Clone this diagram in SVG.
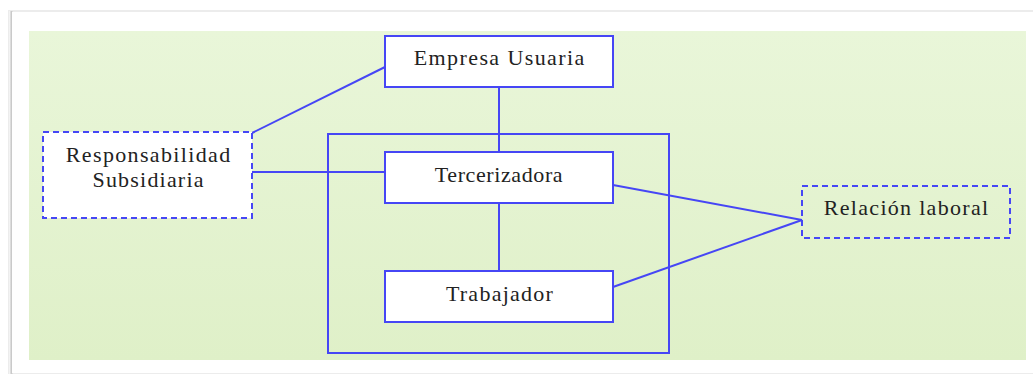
<svg xmlns="http://www.w3.org/2000/svg" width="1033" height="374" viewBox="0 0 1033 374">
  <defs>
    <linearGradient id="bg" x1="0" y1="0" x2="0" y2="1">
      <stop offset="0" stop-color="#e9f6d9"/>
      <stop offset="1" stop-color="#dff0c8"/>
    </linearGradient>
    <linearGradient id="shadowL" x1="0" y1="0" x2="1" y2="0">
      <stop offset="0" stop-color="#ffffff"/>
      <stop offset="0.6" stop-color="#c8c8c8"/>
      <stop offset="1" stop-color="#e6e6e6"/>
    </linearGradient>
    <style>
      .box { fill: #ffffff; stroke: #4646f5; stroke-width: 2; }
      .dash { fill: #ffffff; stroke: #4646f5; stroke-width: 2; stroke-dasharray: 6 4; }
      .dashg { fill: none; stroke: #4646f5; stroke-width: 2; stroke-dasharray: 6 4; }
      .line { fill: none; stroke: #4646f5; stroke-width: 2; }
    </style>
  </defs>
  <rect x="0" y="0" width="1033" height="374" fill="#ffffff"/>
  <!-- card -->
  <rect x="8" y="10" width="1030" height="366" fill="#ececec"/>
  <rect x="9" y="11" width="4" height="364" fill="url(#shadowL)"/>
  <rect x="12" y="12" width="1025" height="361" fill="#ffffff"/>
  <rect x="29" y="31" width="997" height="329" fill="url(#bg)"/>

  <g id="connectors">
    <line class="line" x1="252" y1="133" x2="385" y2="67"/>
    <line class="line" x1="252" y1="172" x2="385" y2="172"/>
    <line class="line" x1="499" y1="87" x2="499" y2="152"/>
    <line class="line" x1="499" y1="203" x2="499" y2="271"/>
    <line class="line" x1="613" y1="185" x2="802" y2="220"/>
    <line class="line" x1="613" y1="287" x2="802" y2="220"/>
  </g>

  <g id="grupo">
    <rect class="line" x="328" y="134" width="341" height="219"/>
  </g>

  <g id="empresa-usuaria">
    <rect class="box" x="385" y="36" width="228" height="51"/>
    <text x="499.7" y="65" font-family="Liberation Serif" font-size="22" fill="#222222" text-anchor="middle" letter-spacing="1.4">Empresa Usuaria</text>
  </g>

  <g id="tercerizadora">
    <rect class="box" x="385" y="152" width="228" height="51"/>
    <text x="499" y="182" font-family="Liberation Serif" font-size="22" fill="#222222" text-anchor="middle" letter-spacing="0.6">Tercerizadora</text>
  </g>

  <g id="trabajador">
    <rect class="box" x="385" y="271" width="228" height="51"/>
    <text x="500" y="301" font-family="Liberation Serif" font-size="22" fill="#222222" text-anchor="middle" letter-spacing="1.25">Trabajador</text>
  </g>

  <g id="responsabilidad-subsidiaria">
    <rect class="dash" x="43" y="132" width="209" height="86"/>
    <text x="148.7" y="162" font-family="Liberation Serif" font-size="22" fill="#222222" text-anchor="middle" letter-spacing="1.35">Responsabilidad</text>
    <text x="148.6" y="187" font-family="Liberation Serif" font-size="22" fill="#222222" text-anchor="middle" letter-spacing="1.2">Subsidiaria</text>
  </g>

  <g id="relacion-laboral">
    <rect class="dashg" x="802" y="186" width="208" height="52"/>
    <text x="906.6" y="215" font-family="Liberation Serif" font-size="22" fill="#222222" text-anchor="middle" letter-spacing="1.3">Relación laboral</text>
  </g>
</svg>
